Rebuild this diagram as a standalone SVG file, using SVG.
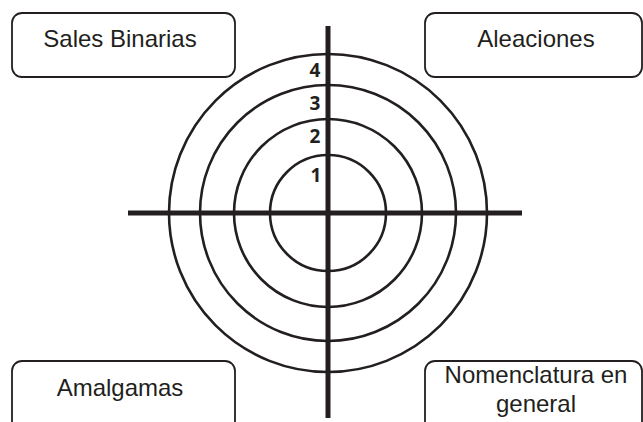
<svg xmlns="http://www.w3.org/2000/svg" width="643" height="422" viewBox="0 0 643 422">
<style>
.box{fill:#fff;stroke:#231f20;stroke-width:1.8}
.lbl{font-family:"Liberation Sans",Arial,sans-serif;font-size:24px;fill:#231f20;text-anchor:middle}
.ring{fill:none;stroke:#231f20;stroke-width:2.6}
.axis{stroke:#231f20;stroke-width:5}
.num{font-family:"Open Sans","Liberation Sans",sans-serif;font-weight:bold;font-size:19px;fill:#231f20;text-anchor:middle}
</style>
<rect width="643" height="422" fill="#fff"/>
<g id="target">
<circle class="ring" cx="328" cy="213" r="58"/>
<circle class="ring" cx="328" cy="213" r="94"/>
<circle class="ring" cx="328" cy="213" r="128"/>
<circle class="ring" cx="328" cy="213" r="159"/>
</g>
<g id="connectors">
<line class="axis" x1="328" y1="26" x2="328" y2="418"/>
<line class="axis" x1="128" y1="213" x2="522" y2="213"/>
</g>
<g id="numbers">
<text class="num" x="315" y="77">4</text>
<text class="num" x="315" y="110">3</text>
<text class="num" x="315" y="143">2</text>
<text class="num" x="316" y="182">1</text>
</g>
<g id="sales-binarias">
<rect class="box" x="12" y="13" width="223" height="64" rx="10"/>
<text class="lbl" x="120" y="47">Sales Binarias</text>
</g>
<g id="aleaciones">
<rect class="box" x="425" y="13" width="217" height="64" rx="10"/>
<text class="lbl" x="536" y="47">Aleaciones</text>
</g>
<g id="amalgamas">
<rect class="box" x="12" y="361" width="223" height="70" rx="10"/>
<text class="lbl" x="120" y="396">Amalgamas</text>
</g>
<g id="nomenclatura">
<rect class="box" x="425" y="361" width="217" height="70" rx="10"/>
<text class="lbl" x="536" y="383">Nomenclatura en</text>
<text class="lbl" x="536" y="412">general</text>
</g>
</svg>
